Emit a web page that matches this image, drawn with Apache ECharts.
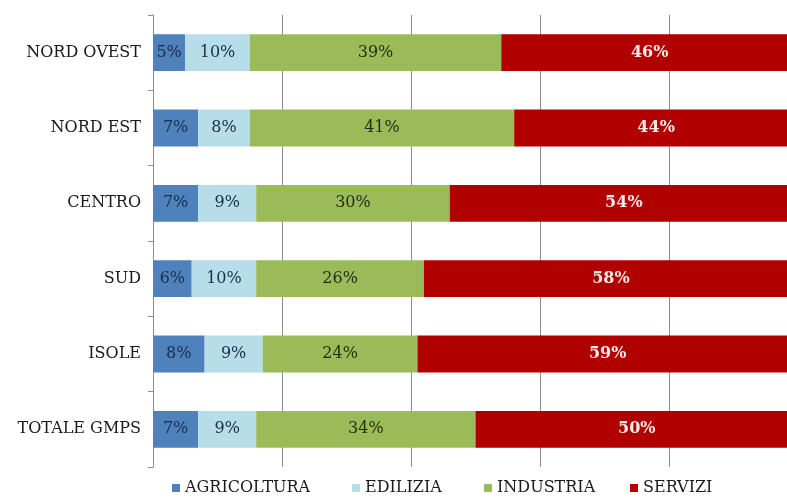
<!DOCTYPE html>
<html>
<head>
<meta charset="utf-8">
<script src="https://cdn.jsdelivr.net/npm/echarts@6/dist/echarts.min.js"></script>
<style>
  html, body { margin: 0; padding: 0; background: #ffffff; overflow: hidden; }
  /* the 100% end of the scale sits just past the right edge of the window */
  #chart { width: 798px; height: 501px; }
</style>
</head>
<body>
<div id="chart"></div>
<script>
// Regions, top to bottom
const regions = ['NORD OVEST', 'NORD EST', 'CENTRO', 'SUD', 'ISOLE', 'TOTALE GMPS'];

// Share of each sector per region (%)
const agricoltura = [5, 7, 7, 6, 8, 7];
const edilizia    = [10, 8, 9, 10, 9, 9];
const industria   = [39, 41, 30, 26, 24, 34];
const servizi     = [46, 44, 54, 58, 59, 50];

const sectorNames  = ['AGRICOLTURA', 'EDILIZIA', 'INDUSTRIA', 'SERVIZI'];
const sectorValues = [agricoltura, edilizia, industria, servizi];
const sectorColors = ['#4f81bd', '#b7dde8', '#9bbb59', '#b00000'];
const labelColors  = ['#1c2f4a', '#1c2f4a', '#1f2f10', '#fbe9e9'];
const legendLeft   = [172, 352, 484, 630];

const serif = '"DejaVu Serif", "Liberation Serif", serif';

const chart = echarts.init(document.getElementById('chart'), null, { renderer: 'canvas' });

const series = sectorNames.map((name, i) => ({
  name: name,
  type: 'bar',
  stack: 'total',
  barWidth: '49%',
  data: sectorValues[i],
  itemStyle: { color: sectorColors[i] },
  label: {
    show: true,
    position: 'inside',
    formatter: p => p.value + '%',
    color: labelColors[i],
    fontFamily: serif,
    fontSize: 16,
    fontWeight: i === 3 ? 'bold' : 'normal'
  }
}));

// one legend block per sector so each entry keeps its own place
const legends = sectorNames.map((name, i) => ({
  top: 480,
  left: legendLeft[i],
  padding: 0,
  itemWidth: 8,
  itemHeight: 8,
  icon: 'rect',
  textStyle: { color: '#1a1a1a', fontFamily: serif, fontSize: 16 },
  data: [name]
}));

chart.setOption({
  animation: false,
  backgroundColor: '#ffffff',
  grid: { left: 153, right: 0, top: 15, bottom: 34, containLabel: false },
  xAxis: {
    type: 'value',
    min: 0,
    max: 100,
    interval: 20,
    axisLabel: { show: false },
    axisLine: { show: false },
    axisTick: { show: false },
    splitLine: { show: true, lineStyle: { color: '#8c8c8c', width: 1 } }
  },
  yAxis: {
    type: 'category',
    data: regions,
    inverse: true,
    axisLine: { show: true, lineStyle: { color: '#8c8c8c', width: 1 } },
    axisTick: { show: true, length: 5, lineStyle: { color: '#8c8c8c' } },
    axisLabel: {
      color: '#1a1a1a',
      fontFamily: serif,
      fontSize: 16,
      margin: 12
    }
  },
  legend: legends,
  series: series
});
</script>
</body>
</html>
